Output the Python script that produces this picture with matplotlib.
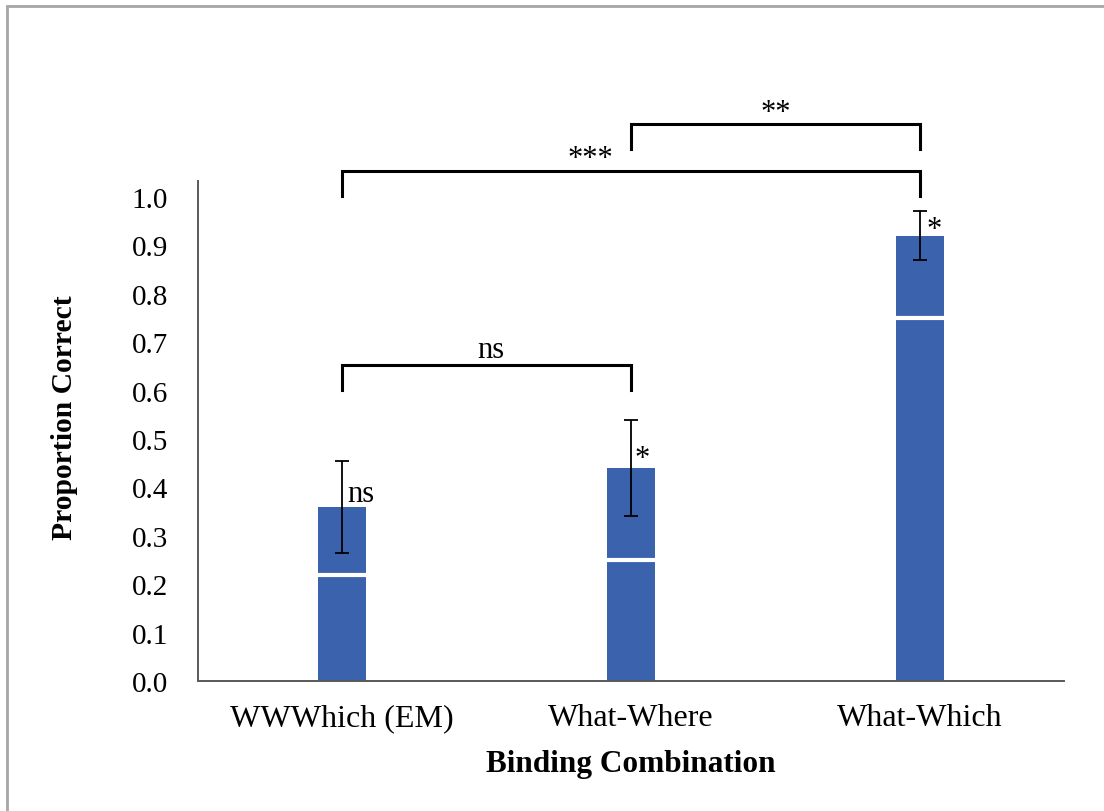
import matplotlib.pyplot as plt
from matplotlib.patches import Rectangle

plt.rcParams['font.family'] = ['Liberation Serif', 'DejaVu Serif']

# data
categories = ["WWWhich (EM)", "What-Where", "What-Which"]
prop_correct = [0.36, 0.44, 0.92]
errors = [0.095, 0.10, 0.05]
chance = [0.22, 0.25, 0.75]
bar_marks = ["ns", "*", "*"]
yticks = [0.0, 0.1, 0.2, 0.3, 0.4, 0.5, 0.6, 0.7, 0.8, 0.9, 1.0]

# comparisons: (left bar, right bar, bracket height, label)
comparisons = [(0, 1, 0.653, "ns"), (0, 2, 1.054, "***"), (1, 2, 1.151, "**")]

fig = plt.figure(figsize=(11.04, 8.12), dpi=100)
ax = fig.add_axes([0.1793, 0.1601, 0.7845, 0.6158])

x = list(range(len(categories)))
bar_color = "#3B62AD"
ax.bar(x, prop_correct, width=0.167, color=bar_color, zorder=2)
# chance level inside each bar
ax.hlines(chance, [i - 0.0835 for i in x], [i + 0.0835 for i in x],
          colors="white", linewidth=3, zorder=3)
ax.errorbar(x, prop_correct, yerr=errors, fmt="none", ecolor="black",
            elinewidth=1.3, capsize=5, capthick=1.3, zorder=4)

# marks next to the error bars
mark_x = [0.017, 1.012, 2.022]
mark_y = [0.372, 0.445, 0.918]
for mx, my, m in zip(mark_x, mark_y, bar_marks):
    ax.text(mx, my, m, fontsize=22, ha="left", va="baseline", zorder=5)

# significance brackets
for a, b, h, lab in comparisons:
    ax.plot([a, a, b, b], [h - 0.052, h, h, h - 0.052], color="black",
            linewidth=2.2, clip_on=False, solid_joinstyle="miter")
lab_pos = [(0.513, 0.670), (0.86, 1.064), (1.50, 1.159)]
for (px, py), (_, _, _, lab) in zip(lab_pos, comparisons):
    ax.text(px, py, lab, fontsize=22, ha="center", va="baseline")

ax.set_xlim(-0.5, 2.5)
ax.set_ylim(0, 1.033)
ax.set_yticks(yticks)
ax.set_yticklabels([f"{t:.1f}" for t in yticks], fontsize=21)
ax.set_xticks(x)
ax.set_xticklabels(categories, fontsize=23)
ax.tick_params(axis="both", length=0)
ax.tick_params(axis="y", pad=21.5)
ax.tick_params(axis="x", pad=16)

for s in ["top", "right"]:
    ax.spines[s].set_visible(False)
for s in ["left", "bottom"]:
    ax.spines[s].set_color("#595959")
    ax.spines[s].set_linewidth(1.4)

ax.set_xlabel("Binding Combination", fontsize=22.5, fontweight="bold", labelpad=12)
fig.text(64 / 1104, 1 - 418 / 812, "Proportion Correct", fontsize=21.3,
         fontweight="bold", rotation=90, ha="center", va="center")

# frame around the figure
fig.patches.append(Rectangle((7 / 1104, -0.1), 1.2, 1.1 - 7 / 812,
                             transform=fig.transFigure, fill=False,
                             edgecolor="#A6A6A6", linewidth=2))

fig.savefig("out.png", dpi=100)
